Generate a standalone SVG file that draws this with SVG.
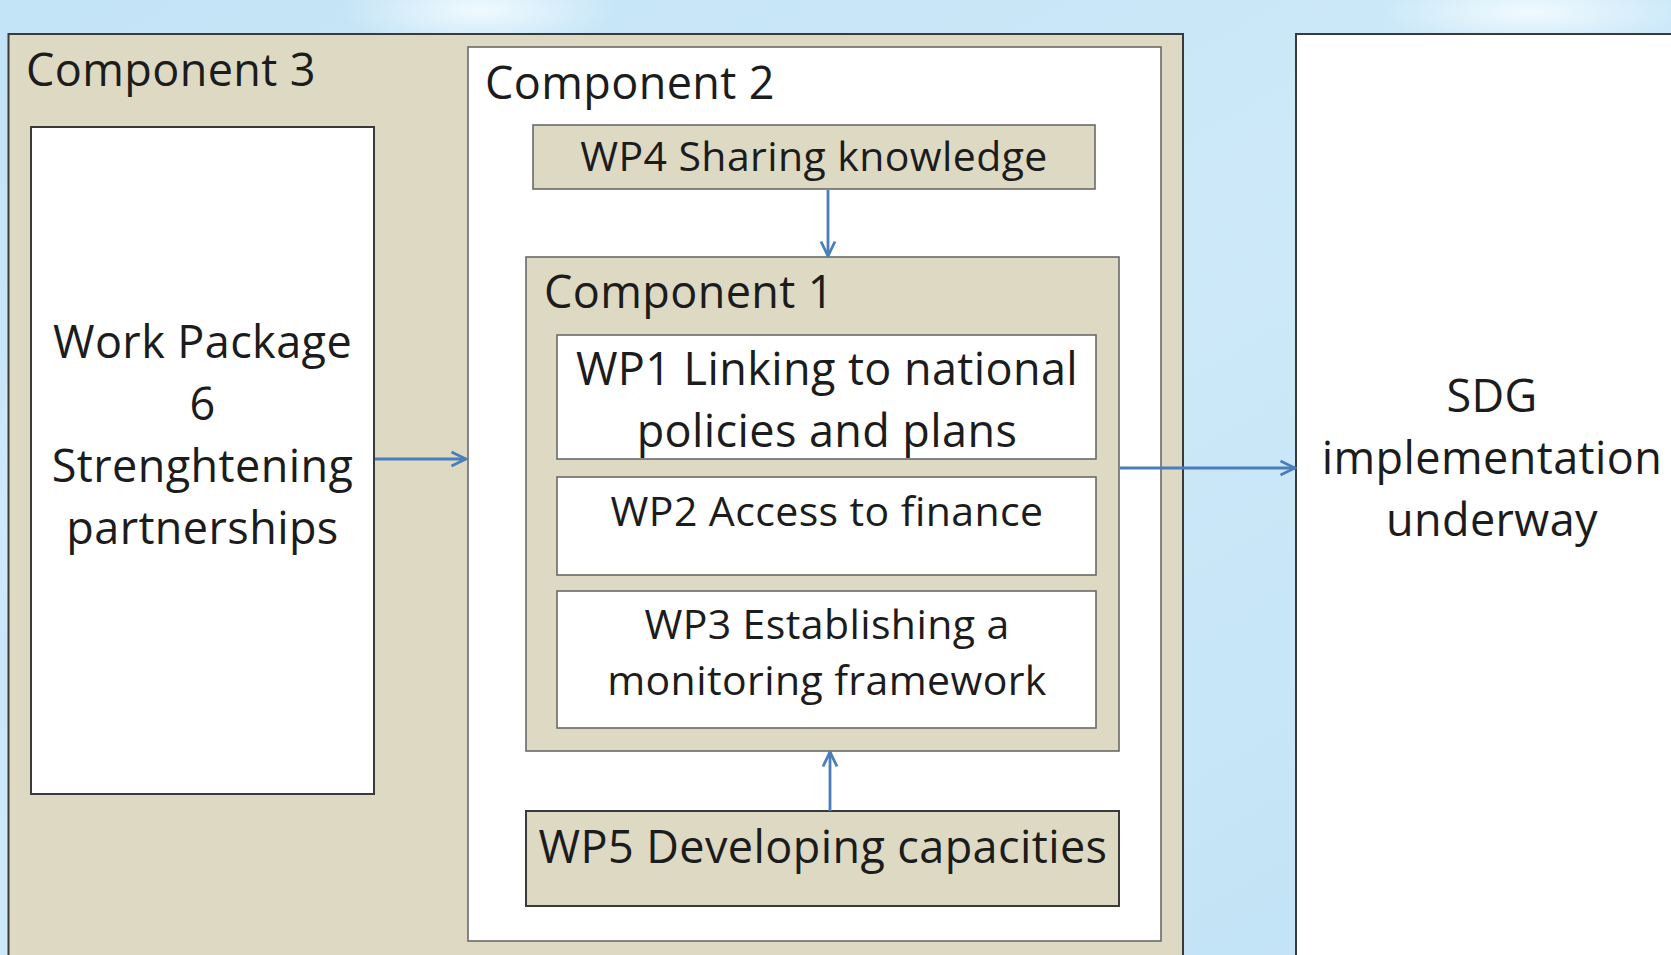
<svg xmlns="http://www.w3.org/2000/svg" width="1671" height="955" viewBox="0 0 1671 955">
<defs>
<linearGradient id="sky" x1="0" y1="0" x2="1" y2="1">
<stop offset="0" stop-color="#c3e3f6"/>
<stop offset="0.5" stop-color="#cde9f9"/>
<stop offset="1" stop-color="#c0e2f5"/>
</linearGradient>
<radialGradient id="glow" cx="0.5" cy="0.5" r="0.5">
<stop offset="0" stop-color="#f2fbff" stop-opacity="0.95"/>
<stop offset="1" stop-color="#f2fbff" stop-opacity="0"/>
</radialGradient>
<marker id="arr" viewBox="0 0 18 18" refX="16.5" refY="9" markerWidth="18" markerHeight="18" markerUnits="userSpaceOnUse" orient="auto">
<path d="M2,2 L16.5,9 L2,16" fill="none" stroke="#4a7ebb" stroke-width="2.8"/>
</marker>
<style>
.tan{fill:#ddd9c3;stroke:#3a3a3a;stroke-width:2}
.wht{fill:#ffffff;stroke:#3a3a3a;stroke-width:2}
.inner{stroke:#6a6a6a;stroke-width:1.6}
text{font-family:"Open Sans","Noto Sans","Liberation Sans",sans-serif;fill:#1c1c1c;letter-spacing:0.4px}
.h{font-size:45px}
.m{font-size:45px;text-anchor:middle}
.s{font-size:41px;text-anchor:middle}
.con{stroke:#4a7ebb;stroke-width:2.8;fill:none;marker-end:url(#arr)}
</style>
</defs>
<rect x="0" y="0" width="1671" height="955" fill="url(#sky)"/>
<ellipse cx="480" cy="10" rx="140" ry="40" fill="url(#glow)"/>
<ellipse cx="1530" cy="12" rx="150" ry="35" fill="url(#glow)"/>
<ellipse cx="30" cy="500" rx="40" ry="200" fill="url(#glow)" opacity="0.4"/>

<g id="component3">
<rect class="tan" x="8.5" y="34" width="1174.5" height="940"/>
<text class="h" x="26" y="86">Component 3</text>
</g>
<g id="wp6">
<rect class="wht" x="31" y="127" width="343" height="667"/>
<text class="m" x="202.5" y="358">Work Package</text>
<text class="m" x="202.5" y="420">6</text>
<text class="m" x="202.5" y="482">Strenghtening</text>
<text class="m" x="202.5" y="544">partnerships</text>
</g>
<g id="component2">
<rect class="wht inner" x="468" y="47" width="693" height="894"/>
<text class="h" x="485" y="99">Component 2</text>
</g>
<g id="wp4">
<rect class="tan inner" x="533" y="125" width="562" height="64"/>
<text class="s" x="814" y="171">WP4 Sharing knowledge</text>
</g>
<g id="component1">
<rect class="tan inner" x="526" y="257" width="593" height="494"/>
<text class="h" x="544" y="308">Component 1</text>
</g>
<g id="wp1">
<rect class="wht inner" x="557" y="335" width="539" height="124"/>
<text class="m" x="827" y="385">WP1 Linking to national</text>
<text class="m" x="827" y="447">policies and plans</text>
</g>
<g id="wp2">
<rect class="wht inner" x="557" y="477" width="539" height="98"/>
<text class="s" x="827" y="526">WP2 Access to finance</text>
</g>
<g id="wp3">
<rect class="wht inner" x="557" y="591" width="539" height="137"/>
<text class="s" x="827" y="639">WP3 Establishing a</text>
<text class="s" x="827" y="695">monitoring framework</text>
</g>
<g id="wp5">
<rect class="tan" x="526" y="811" width="593" height="95"/>
<text class="m" x="823" y="863">WP5 Developing capacities</text>
</g>
<g id="sdg">
<rect class="wht" x="1296" y="34" width="400" height="940"/>
<text class="m" x="1492" y="412">SDG</text>
<text class="m" x="1492" y="474">implementation</text>
<text class="m" x="1492" y="536">underway</text>
</g>
<g id="connectors">
<line class="con" x1="828" y1="190" x2="828" y2="256"/>
<line class="con" x1="830" y1="811" x2="830" y2="752"/>
<line class="con" x1="375" y1="459" x2="466" y2="459"/>
<line class="con" x1="1120" y1="468" x2="1295" y2="468"/>
</g>
</svg>
